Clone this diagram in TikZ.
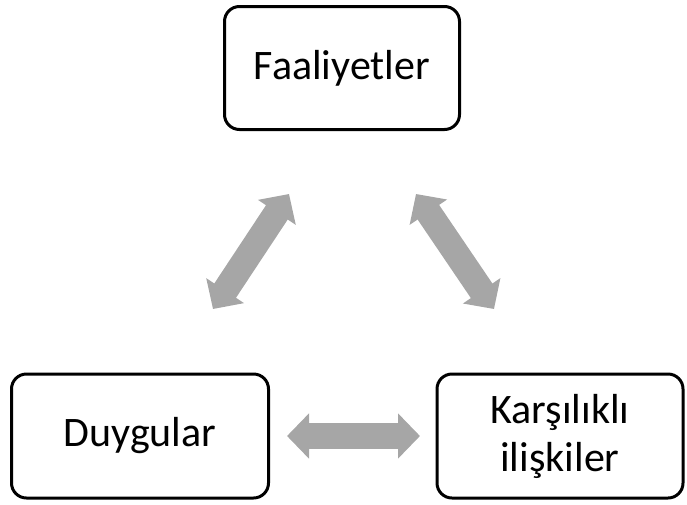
\documentclass[tikz,border=0pt]{standalone}
\usepackage{fontspec}
\setmainfont{Carlito}
\usetikzlibrary{arrows.meta}

\definecolor{arrowgray}{RGB}{166,166,166}

\tikzset{
  box/.style={draw=black, line width=3pt, rounded corners=15pt, align=center,
    font=\fontsize{42}{48}\selectfont, inner sep=0pt},
  twoway/.style={draw=arrowgray, line width=26pt,
    {Triangle[length=22pt,width=44pt]}-{Triangle[length=22pt,width=44pt]}}
}

\begin{document}
\begin{tikzpicture}[x=1pt,y=-1pt]

  \useasboundingbox (0,0) rectangle (687,504);

  \node[box, minimum width=235pt, minimum height=123pt] (faal) at (342,68) {Faaliyetler};
  \node[box, minimum width=257pt, minimum height=124pt] (duygu) at (140,436) {Duygular};
  \node[box, minimum width=246pt, minimum height=124pt] (iliski) at (560,436) {Karşılıklı\\ilişkiler};

  % ends of the block arrows
  \coordinate (l1) at (213,309);
  \coordinate (l2) at (289,194);
  \coordinate (r1) at (416,194);
  \coordinate (r2) at (494,309);
  \coordinate (b1) at (287,436);
  \coordinate (b2) at (420,436);

  \draw[twoway] (l1) -- (l2);
  \draw[twoway] (r1) -- (r2);
  \draw[twoway] (b1) -- (b2);

\end{tikzpicture}
\end{document}
